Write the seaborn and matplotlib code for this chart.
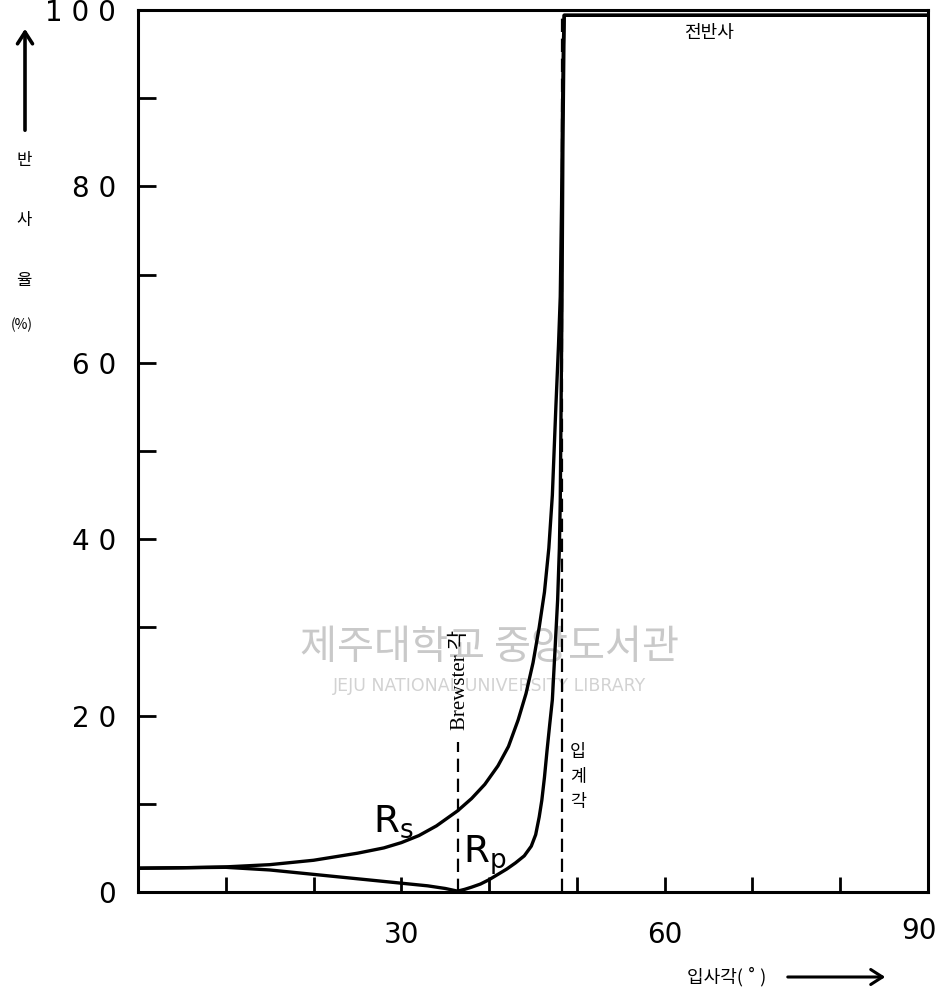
import matplotlib
matplotlib.use("Agg")
import matplotlib.pyplot as plt
import pandas as pd
import seaborn as sns

# values (angle in degrees, reflectance in %)
angle_s = [0, 5, 10, 15, 20, 25, 28, 30, 32, 34, 36.4, 38, 39.5, 41, 42.2,
           43.3, 44.2, 45.0, 45.7, 46.3, 46.8, 47.2, 47.6, 47.9, 48.1,
           48.25, 48.35, 48.45, 48.55, 90]
rs_vals = [2.7, 2.75, 2.85, 3.1, 3.6, 4.4, 5.0, 5.6, 6.4, 7.5, 9.2, 10.6,
           12.2, 14.3, 16.5, 19.5, 22.5, 26.0, 30.0, 34.0, 39.0, 45.0, 55.0,
           62.0, 67.5, 78.0, 88.0, 96.0, 99.4, 99.4]

angle_p = [0, 5, 10, 15, 20, 25, 30, 33, 35, 36.4, 37.2, 38, 39, 40, 41, 42,
           43, 44, 44.8, 45.3, 45.7, 46.0, 46.3, 46.6, 46.9, 47.2, 47.5,
           47.8, 48.0, 48.1, 48.2, 48.3, 48.4, 48.55, 90]
rp_vals = [2.7, 2.75, 2.8, 2.5, 2.0, 1.5, 1.0, 0.7, 0.4, 0.1, 0.3, 0.55,
           0.9, 1.4, 2.0, 2.6, 3.3, 4.1, 5.2, 6.5, 8.5, 10.4, 13.0, 16.1,
           19.0, 21.8, 27.4, 33.1, 39.0, 44.4, 55.8, 67.1, 84.1, 99.4, 99.4]

brewster_angle = 36.4
critical_angle = 48.3

y_ticks = [0, 20, 40, 60, 80, 100]
y_labels = ["0", "2 0", "4 0", "6 0", "8 0", "1 0 0"]
y_minor = [10, 30, 50, 70, 90]
x_ticks = [10, 20, 30, 40, 50, 60, 70, 80]
x_labels = ["", "", "30", "", "", "60", "", ""]

sns.set_theme(style="white")
plt.rcParams["font.family"] = ["DejaVu Sans", "Noto Sans CJK KR"]
plt.rcParams["text.color"] = "black"
KR = ["Noto Sans CJK KR", "DejaVu Sans"]

df_s = pd.DataFrame({"angle": angle_s, "R": rs_vals})
df_p = pd.DataFrame({"angle": angle_p, "R": rp_vals})

fig = plt.figure(figsize=(9.5, 9.98), dpi=100)
ax = fig.add_axes([0.1453, 0.1062, 0.8316, 0.8838])

# watermark of the scanning library
ax.text(40.0, 27.7, "제주대학교 중앙도서관", family=KR, fontsize=29,
        color="#c9c9c9", ha="center", va="center", zorder=0)
ax.text(40.0, 23.4, "JEJU NATIONAL UNIVERSITY LIBRARY", fontsize=12.5,
        color="#d2d2d2", ha="center", va="center", zorder=0)

for df in (df_s, df_p):
    sns.lineplot(data=df, x="angle", y="R", ax=ax, color="black", lw=2.4,
                 sort=False, estimator=None, solid_joinstyle="round")

ax.plot([brewster_angle, brewster_angle], [0, 17], color="black", lw=1.6,
        dashes=(6, 3))
ax.plot([critical_angle, critical_angle], [0, 100], color="black", lw=1.6,
        dashes=(6, 3))

ax.set_xlim(0, 90)
ax.set_ylim(0, 100)
ax.set_xticks(x_ticks)
ax.set_xticklabels(x_labels)
ax.set_yticks(y_ticks)
ax.set_yticklabels(y_labels)
ax.set_yticks(y_minor, minor=True)
ax.tick_params(axis="both", which="both", direction="in", width=2,
               colors="black", labelsize=20)
ax.tick_params(axis="y", which="both", left=True, length=13, pad=16)
ax.tick_params(axis="x", which="both", bottom=True, length=11, pad=21)
ax.set_xlabel("")
ax.set_ylabel("")
for sp in ax.spines.values():
    sp.set_linewidth(2.2)
    sp.set_color("black")

# "90" sits at the right end of the axis
ax.text(89.0, -4.4, "90", fontsize=20, ha="center", va="center")

# annotations
ax.text(65.1, 97.4, "전반사", family=KR, fontsize=13, ha="center",
        va="center")
ax.text(brewster_angle + 0.3, 24.0, "Brewster 각",
        family=["Liberation Serif", "Noto Sans CJK KR"], fontsize=15,
        rotation=90, ha="center", va="center")
for i, ch in enumerate("입계각"):
    ax.text(50.1, 15.9 - i * 2.85, ch, family=KR, fontsize=12.5,
            ha="center", va="center")
ax.text(26.8, 6.8, r"R$_{\mathrm{s}}$", fontsize=27, ha="left", va="baseline")
ax.text(37.0, 3.3, r"R$_{\mathrm{p}}$", fontsize=27, ha="left", va="baseline")

# y axis title with arrow
for ch, yp in zip(["반", "사", "율"], [161, 220, 281]):
    fig.text(24 / 950, 1 - yp / 998, ch, family=KR, fontsize=12,
             ha="center", va="center")
fig.text(22 / 950, 1 - 325 / 998, "(%)", family=KR, fontsize=10,
         ha="center", va="center")
ax.annotate("", xy=(25 / 950, 1 - 26 / 998), xytext=(25 / 950, 1 - 133 / 998),
            xycoords="figure fraction", textcoords="figure fraction",
            arrowprops=dict(arrowstyle="->,head_length=0.7,head_width=0.45",
                            lw=2.6, color="black"))

# x axis title with arrow
fig.text(727 / 950, 1 - 977 / 998, "입사각( ˚ )", family=KR, fontsize=13,
         ha="center", va="center")
ax.annotate("", xy=(888 / 950, 1 - 977 / 998), xytext=(785 / 950, 1 - 977 / 998),
            xycoords="figure fraction", textcoords="figure fraction",
            arrowprops=dict(arrowstyle="->,head_length=0.7,head_width=0.45",
                            lw=2.2, color="black"))

fig.savefig("out.png", dpi=100)
